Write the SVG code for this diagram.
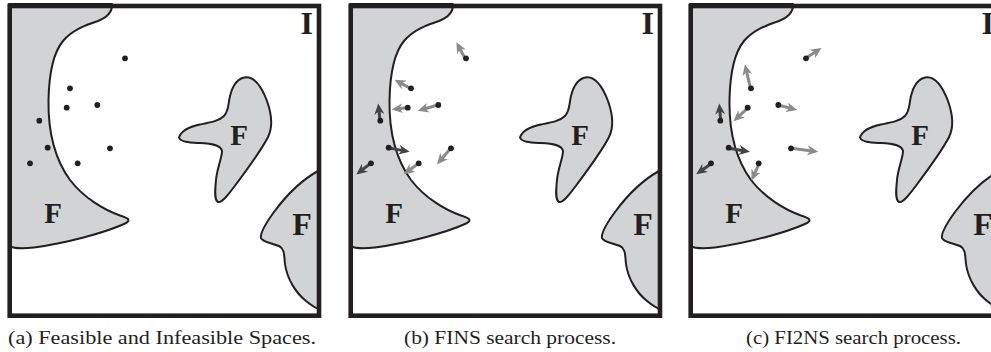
<svg xmlns="http://www.w3.org/2000/svg" width="991" height="352" viewBox="0 0 991 352">
<style>
.reg{fill:#d1d3d4;stroke:#231f20;stroke-width:2;stroke-linejoin:round}
.frame{fill:none;stroke:#231f20;stroke-width:4.6}
.lbl{font-family:"Liberation Serif","Times New Roman",serif;font-weight:bold;fill:#231f20;text-anchor:middle}
.cap{font-family:"Liberation Serif","Times New Roman",serif;font-size:19px;fill:#231f20;text-anchor:middle}
.dot{fill:#231f20}
.al{stroke:#8a8a8a;stroke-width:3;fill:none;marker-end:url(#hl)}
.ad{stroke:#434343;stroke-width:3;fill:none;marker-end:url(#hd)}
</style>
<defs>
<marker id="hl" viewBox="0 0 10 10" refX="4" refY="5" markerWidth="11" markerHeight="10" markerUnits="userSpaceOnUse" orient="auto" preserveAspectRatio="none">
<path d="M0,0 L10,5 L0,10 L3,5 Z" fill="#8a8a8a"/>
</marker>
<marker id="hd" viewBox="0 0 10 10" refX="4" refY="5" markerWidth="11" markerHeight="10" markerUnits="userSpaceOnUse" orient="auto" preserveAspectRatio="none">
<path d="M0,0 L10,5 L0,10 L3,5 Z" fill="#434343"/>
</marker>
<g id="base">
<path class="reg" d="M9,4 L112,4 C112.5,12 108,17 98,21 C86,25 72,30 63,41 C53,53 49,75 48.5,100 C48,130 54,158 70,180 C84,198 104,210 120,215.5 C130,218.5 131,221 124,224 C104,233 66,243 34,247.5 C22,249 14,248.5 9,246 Z"/>
<path class="reg" d="M179,137.5 C181,131 188,127 200,124.5 C210,122.5 219,121 224,116 C229,111 228,104 230,96 C233,84 238,78 246,77.3 C255,77 262,88 267,101 C272,115 273,127 268,137 C262,149 246,171 234,187 C228,195 222,203 218,202 C214,200 215,190 216,180 C217,168 222,158 222,151 C221,145 212,143.5 200,143 C190,142.5 181,142.5 179,137.5 Z"/>
<path class="reg" d="M319,170.5 C305,178 288,193 274,212 C266,223 260,233 261,238 C262,242 272,243 279,246 C285,249 284,256 285,264 C287,279 296,293 306,301 C311,305 315,308 319,309 Z"/>
<rect class="frame" x="9.7" y="6" width="309.3" height="309.7"/>
<text class="lbl" x="306.7" y="34" font-size="32">I</text>
<text class="lbl" x="53" y="222.5" font-size="29">F</text>
<text class="lbl" x="239" y="145" font-size="29">F</text>
<text class="lbl" x="302" y="235" font-size="32">F</text>
</g>
<g id="dots">
<circle class="dot" cx="125" cy="58.3" r="2.9"/>
<circle class="dot" cx="70" cy="88.3" r="2.9"/>
<circle class="dot" cx="66.7" cy="107.7" r="2.9"/>
<circle class="dot" cx="97.3" cy="105" r="2.9"/>
<circle class="dot" cx="39.3" cy="120.7" r="2.9"/>
<circle class="dot" cx="47.7" cy="147.7" r="2.9"/>
<circle class="dot" cx="110" cy="148.3" r="2.9"/>
<circle class="dot" cx="30" cy="163.3" r="2.9"/>
<circle class="dot" cx="77.7" cy="163.3" r="2.9"/>
</g>
</defs>

<g id="panel-a">
<use href="#base"/>
<use href="#dots"/>
</g>

<g id="panel-b" transform="translate(341,0)">
<use href="#base"/>
<g id="connectors-b">
<path class="al" d="M124,58.3 L118.5,48"/>
<path class="al" d="M69,88.3 L59.3,82.9"/>
<path class="al" d="M66.3,107.7 L57.3,108.7"/>
<path class="al" d="M96.7,105 L83.1,109"/>
<path class="ad" d="M39,120.7 L37.9,110"/>
<path class="ad" d="M47.3,147.7 L62.1,150.6"/>
<path class="al" d="M109.7,148.3 L100.2,159.4"/>
<path class="ad" d="M29.7,163.3 L20.5,170.4"/>
<path class="al" d="M77.7,163.3 L67.9,170.5"/>
</g>
<use href="#dots"/>
</g>

<g id="panel-c" transform="translate(681,0)">
<use href="#base"/>
<g id="connectors-c">
<path class="al" d="M124.7,58.3 L135,51.6"/>
<path class="al" d="M69.7,89 L65.4,70.8"/>
<path class="al" d="M67.3,107.7 L57.4,116.7"/>
<path class="al" d="M97.3,105 L109.9,108.4"/>
<path class="ad" d="M39.7,120.7 L38.8,110"/>
<path class="ad" d="M48,148.3 L62.4,150.7"/>
<path class="al" d="M110.7,148.3 L130.7,150.9"/>
<path class="ad" d="M30.7,163.3 L20.6,170.5"/>
<path class="al" d="M78.3,163.3 L73.2,174.5"/>
</g>
<use href="#dots"/>
</g>

<g id="captions">
<text class="cap" x="162" y="344" textLength="308" lengthAdjust="spacingAndGlyphs">(a) Feasible and Infeasible Spaces.</text>
<text class="cap" x="510" y="344" textLength="212" lengthAdjust="spacingAndGlyphs">(b) FINS search process.</text>
<text class="cap" x="853.5" y="344" textLength="215" lengthAdjust="spacingAndGlyphs">(c) FI2NS search process.</text>
</g>
</svg>
